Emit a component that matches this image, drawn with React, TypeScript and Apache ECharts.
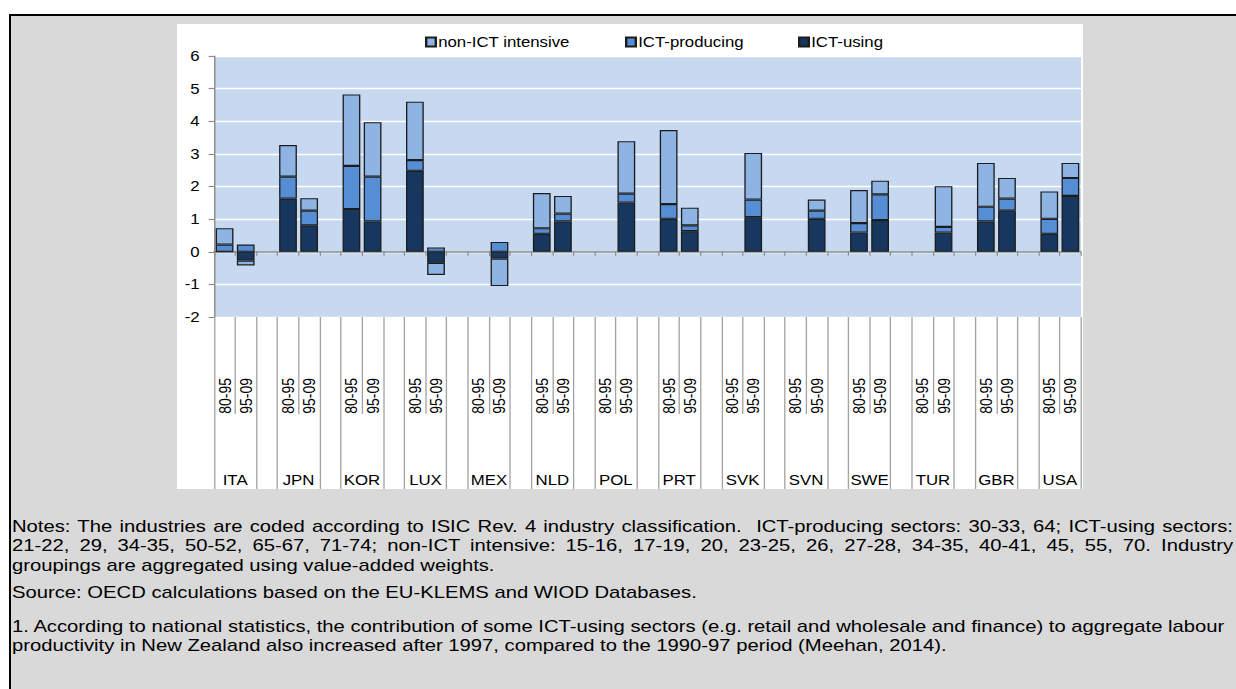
import React, { useEffect, useRef } from "react";
import * as echarts from "echarts";

// ---- data ----
const countries = ["ITA", "JPN", "KOR", "LUX", "MEX", "NLD", "POL", "PRT", "SVK", "SVN", "SWE", "TUR", "GBR", "USA"];
const periods = ["80-95", "95-09"];
const seriesNames = ["non-ICT intensive", "ICT-producing", "ICT-using"];

const ictUsing8095 = [0, 1.63, 1.31, 2.48, null, 0.55, null, 1.01, null, null, 0.59, null, 0.93, 0.55];
const ictUsing9509 = [-0.27, 0.81, 0.93, -0.34, -0.21, 0.93, 1.51, 0.63, 1.06, 1.01, 0.97, 0.59, 1.26, 1.71];
const ictProducing8095 = [0.22, 0.67, 1.32, 0.33, null, 0.17, null, 0.45, null, null, 0.29, null, 0.45, 0.46];
const ictProducing9509 = [0.22, 0.45, 1.37, 0.13, 0.3, 0.24, 0.27, 0.18, 0.54, 0.25, 0.79, 0.17, 0.37, 0.55];
const nonIct8095 = [0.5, 0.97, 2.19, 1.79, null, 1.08, null, 2.27, null, null, 1.01, null, 1.34, 0.84];
const nonIct9509 = [-0.15, 0.38, 1.67, -0.37, -0.84, 0.54, 1.61, 0.54, 1.43, 0.34, 0.42, 1.25, 0.63, 0.46];

const yMin = -2;
const yMax = 6;
const yInterval = 1;

const notesLine1 = "Notes: The industries are coded according to ISIC Rev. 4 industry classification.\u00a0 ICT-producing sectors: 30-33, 64; ICT-using sectors:";
const notesLine2 = "21-22, 29, 34-35, 50-52, 65-67, 71-74; non-ICT intensive: 15-16, 17-19, 20, 23-25, 26, 27-28, 34-35, 40-41, 45, 55, 70. Industry";
const notesLine3 = "groupings are aggregated using value-added weights.";
const sourceLine = "Source: OECD calculations based on the EU-KLEMS and WIOD Databases.";
const footLine1 = "1. According to national statistics, the contribution of some ICT-using sectors (e.g. retail and wholesale and finance) to aggregate labour";
const footLine2 = "productivity in New Zealand also increased after 1997, compared to the 1990-97 period (Meehan, 2014).";

// ---- derived slot structure: 80-95, 95-09, gap, ... ----
const slotKeys: string[] = [];
countries.forEach((c, i) => {
  slotKeys.push(c + "|" + periods[0], c + "|" + periods[1]);
  if (i < countries.length - 1) slotKeys.push(c + "|gap");
});
const toSlots = (a: (number | null)[], b: (number | null)[]) => {
  const out: (number | null)[] = [];
  countries.forEach((_, i) => {
    out.push(a[i], b[i]);
    if (i < countries.length - 1) out.push(null);
  });
  return out;
};
const countryCenters = countries.map((_, i) => 3 * i + 1);
const longTicks: number[] = [];
countries.forEach((_, i) => {
  longTicks.push(3 * i, 3 * i + 2);
});

const FONT = "'Liberation Sans', Arial, sans-serif";
const C_LIGHT = "#8eb4e3";
const C_MID = "#558ed5";
const C_DARK = "#17375e";
const BORDER = "#1c1c1c";
const SEP = "#a3a3a3";
const AXIS = "#8c8c8c";

// the reference is horizontally stretched; reproduce with a CSS scaleX
const SX = 1.2;
const CHART_W = 906;

function Chart() {
  const ref = useRef<HTMLDivElement>(null);
  useEffect(() => {
    if (!ref.current) return;
    const chart = echarts.init(ref.current, undefined, { renderer: "svg" });
    const barCommon = {
      type: "bar",
      stack: "total",
      xAxisIndex: 0,
      yAxisIndex: 0,
      barWidth: "84%",
    };
    const legendCommon = {
      top: 11,
      padding: 0,
      icon: "rect",
      itemWidth: 8,
      itemHeight: 9,
      itemGap: 0,
      textStyle: { fontSize: 14, color: "#000", fontFamily: FONT, padding: [0, 0, 0, -3] },
    };
    chart.setOption({
      animation: false,
      textStyle: { fontFamily: FONT },
      legend: [
        { ...legendCommon, data: [seriesNames[0]], left: 248 / SX },
        { ...legendCommon, data: [seriesNames[1]], left: 448 / SX },
        { ...legendCommon, data: [seriesNames[2]], left: 621 / SX },
      ],
      grid: {
        left: 37 / SX,
        right: 2 / SX,
        top: 32,
        bottom: 172,
        show: true,
        backgroundColor: "#c6d9f1",
        borderWidth: 0,
        containLabel: false,
        outerBoundsMode: "none",
      },
      xAxis: [
        {
          type: "category",
          data: slotKeys,
          position: "bottom",
          boundaryGap: true,
          axisLine: { show: false, onZero: false },
          axisTick: { show: false },
          splitLine: { show: false },
          axisLabel: {
            interval: 0,
            rotate: 90,
            margin: 61,
            fontSize: 14,
            color: "#000",
            fontFamily: FONT,
            formatter: (v: string) => {
              const p = v.split("|")[1];
              return p === "gap" ? "" : p;
            },
          },
        },
        {
          type: "value",
          min: 0,
          max: slotKeys.length,
          position: "bottom",
          axisLine: { show: false, onZero: false },
          splitLine: { show: false },
          axisTick: {
            show: true,
            customValues: countryCenters,
            length: 97,
            lineStyle: { color: SEP, width: 1.1 },
          },
          axisLabel: {
            show: true,
            customValues: countryCenters,
            margin: 156,
            fontSize: 14,
            color: "#000",
            fontFamily: FONT,
            formatter: (v: number) => countries[Math.round((v - 1) / 3)] || "",
          },
        },
        {
          type: "value",
          min: 0,
          max: slotKeys.length,
          position: "bottom",
          axisLine: { show: false, onZero: false },
          splitLine: { show: false },
          axisTick: {
            show: true,
            customValues: longTicks,
            length: 174,
            lineStyle: { color: SEP, width: 1.1 },
          },
          axisLabel: { show: false },
        },
        {
          type: "category",
          data: slotKeys,
          position: "bottom",
          boundaryGap: true,
          axisLine: { show: true, onZero: true, lineStyle: { color: AXIS, width: 1.5 } },
          axisTick: { show: true, interval: 0, length: 4, lineStyle: { color: AXIS, width: 1 } },
          axisLabel: { show: false },
          splitLine: { show: false },
        },
      ],
      yAxis: {
        type: "value",
        min: yMin,
        max: yMax,
        interval: yInterval,
        position: "left",
        axisLine: { show: true, onZero: false, lineStyle: { color: AXIS, width: 1.2 } },
        axisTick: { show: true, length: 4.5, lineStyle: { color: AXIS, width: 1.2 } },
        axisLabel: { margin: 12, fontSize: 14, color: "#000", fontFamily: FONT },
        splitLine: { show: true, lineStyle: { color: "#ffffff", width: 1.3 } },
      },
      series: [
        {
          ...barCommon,
          name: seriesNames[2],
          data: toSlots(ictUsing8095, ictUsing9509),
          itemStyle: { color: C_DARK, borderColor: BORDER, borderWidth: 1.1 },
        },
        {
          ...barCommon,
          name: seriesNames[1],
          data: toSlots(ictProducing8095, ictProducing9509),
          itemStyle: { color: C_MID, borderColor: BORDER, borderWidth: 1.1 },
        },
        {
          ...barCommon,
          name: seriesNames[0],
          data: toSlots(nonIct8095, nonIct9509),
          itemStyle: { color: C_LIGHT, borderColor: BORDER, borderWidth: 1.1 },
        },
      ],
    });
    return () => chart.dispose();
  }, []);
  return (
    <div
      ref={ref}
      style={{
        position: "absolute",
        left: 177,
        top: 24,
        width: CHART_W / SX,
        height: 465,
        background: "#fff",
        transform: `scaleX(${SX})`,
        transformOrigin: "left top",
      }}
    />
  );
}

const NOTE_SX = 1.19;
const lineBase: React.CSSProperties = {
  position: "absolute",
  left: 12,
  width: 1221 / NOTE_SX,
  fontFamily: FONT,
  fontSize: 17,
  lineHeight: "19.5px",
  height: 19.5,
  color: "#000",
  transform: `scaleX(${NOTE_SX})`,
  transformOrigin: "left top",
  whiteSpace: "nowrap",
};
const justified: React.CSSProperties = {
  textAlign: "justify",
  textAlignLast: "justify" as any,
  whiteSpace: "normal",
};

export default function App() {
  return (
    <div
      style={{
        position: "absolute",
        left: 0,
        top: 0,
        width: 1236,
        height: 689,
        background: "#fff",
        overflow: "hidden",
      }}
    >
      <div
        style={{
          position: "absolute",
          left: 9,
          top: 14,
          right: 0,
          bottom: 0,
          background: "#d9d9d9",
          borderLeft: "2px solid #000",
          borderTop: "2px solid #000",
        }}
      />
      <Chart />
      <div style={{ ...lineBase, ...justified, top: 516.5 }}>{notesLine1}</div>
      <div style={{ ...lineBase, ...justified, top: 536 }}>{notesLine2}</div>
      <div style={{ ...lineBase, top: 555.5 }}>{notesLine3}</div>
      <div style={{ ...lineBase, top: 582.5 }}>{sourceLine}</div>
      <div style={{ ...lineBase, top: 616.5 }}>{footLine1}</div>
      <div style={{ ...lineBase, top: 636 }}>{footLine2}</div>
    </div>
  );
}
